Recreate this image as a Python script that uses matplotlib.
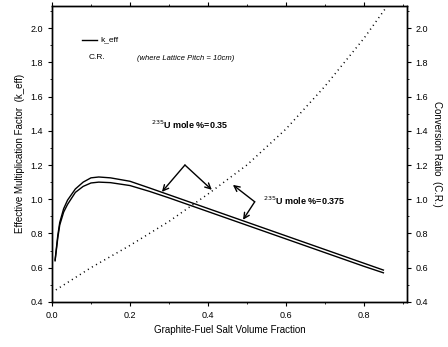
import numpy as np
import matplotlib
matplotlib.use('Agg')
import matplotlib.pyplot as plt
from matplotlib.ticker import MultipleLocator

# volume fraction points
vf = [0.008, 0.015, 0.02, 0.03, 0.04, 0.06, 0.08, 0.10, 0.12, 0.15, 0.20, 0.25, 0.30,
      0.35, 0.40, 0.45, 0.50, 0.55, 0.60, 0.65, 0.70, 0.75, 0.80, 0.85]
keff_375 = [0.645, 0.79, 0.865, 0.945, 0.995, 1.06, 1.10, 1.125, 1.13, 1.125, 1.105, 1.066, 1.026,
            0.986, 0.946, 0.906, 0.866, 0.826, 0.786, 0.746, 0.706, 0.666, 0.626, 0.586]
keff_35 = [0.64, 0.775, 0.85, 0.925, 0.97, 1.04, 1.075, 1.095, 1.10, 1.097, 1.08, 1.046, 1.008,
           0.968, 0.928, 0.888, 0.848, 0.808, 0.768, 0.728, 0.688, 0.648, 0.608, 0.570]

vf_cr = [0.01, 0.10, 0.20, 0.30, 0.40, 0.50, 0.60, 0.70, 0.80, 0.86]
cr = [0.47, 0.60, 0.73, 0.87, 1.03, 1.20, 1.41, 1.66, 1.94, 2.13]

plt.rcParams['font.family'] = ['Liberation Sans', 'DejaVu Sans']

fig = plt.figure(figsize=(4.48, 3.47), dpi=100)
ax = fig.add_axes([0.116, 0.130, 0.792, 0.853])

ax.plot(vf, keff_375, color='black', lw=1.0)
ax.plot(vf, keff_35, color='black', lw=1.0)
ax.plot(vf_cr, cr, color='black', lw=1.1, linestyle=(0, (0.7, 2.4)))

ax.set_xlim(0, 0.91)
ax.set_ylim(0.4, 2.13)
ax.xaxis.set_major_locator(MultipleLocator(0.2))
ax.xaxis.set_minor_locator(MultipleLocator(0.1))
ax.yaxis.set_major_locator(MultipleLocator(0.2))
ax.yaxis.set_minor_locator(MultipleLocator(0.1))
ax.tick_params(axis='both', which='major', labelsize=6.5, length=3, width=0.8, direction='out')
ax.tick_params(axis='both', which='minor', length=1.5, width=0.6, direction='out')
ax.tick_params(axis='x', top=True, which='both')
ax.xaxis.set_major_formatter(plt.FuncFormatter(lambda v, p: '%.1f' % v))

ax.set_xlabel('Graphite-Fuel Salt Volume Fraction', fontsize=7)
ax.set_ylabel('Effective Multiplication Factor  (k_eff)', fontsize=7)

ax2 = ax.twinx()
ax2.set_ylim(0.4, 2.13)
ax2.yaxis.set_major_locator(MultipleLocator(0.2))
ax2.yaxis.set_minor_locator(MultipleLocator(0.1))
ax2.tick_params(axis='y', which='major', labelsize=6.5, length=3, width=0.8, direction='out')
ax2.tick_params(axis='y', which='minor', length=1.5, width=0.6, direction='out')
ax2.set_ylabel('Conversion Ratio  (C.R.)', fontsize=7, rotation=270, labelpad=10)

for a in (ax, ax2):
    for s in a.spines.values():
        s.set_linewidth(1.0)

# legend drawn by hand as in the original
ax.plot([0.077, 0.115], [1.93, 1.93], color='black', lw=1.0)
ax.text(0.123, 1.93, 'k_eff', fontsize=6, va='center')
ax.text(0.095, 1.83, 'C.R.', fontsize=6, va='center')
ax.text(0.218, 1.82, '(where Lattice Pitch = 10cm)', fontsize=5.5, style='italic', va='center')

# annotations
arrow = dict(arrowstyle='->', color='black', lw=1.0, shrinkA=0, shrinkB=0)
ax.text(0.354, 1.435, r'$^{235}$U mole %=0.35', fontsize=6.5, fontweight='bold', ha='center', va='center')
ax.annotate('', xy=(0.282, 1.043), xytext=(0.341, 1.20), arrowprops=arrow)
ax.annotate('', xy=(0.41, 1.055), xytext=(0.341, 1.20), arrowprops=arrow)

ax.text(0.541, 0.99, r'$^{235}$U mole %=0.375', fontsize=6.5, fontweight='bold', ha='left', va='center')
ax.annotate('', xy=(0.464, 1.084), xytext=(0.52, 0.985), arrowprops=arrow)
ax.annotate('', xy=(0.49, 0.88), xytext=(0.52, 0.985), arrowprops=arrow)

fig.savefig('out.png', dpi=100)
